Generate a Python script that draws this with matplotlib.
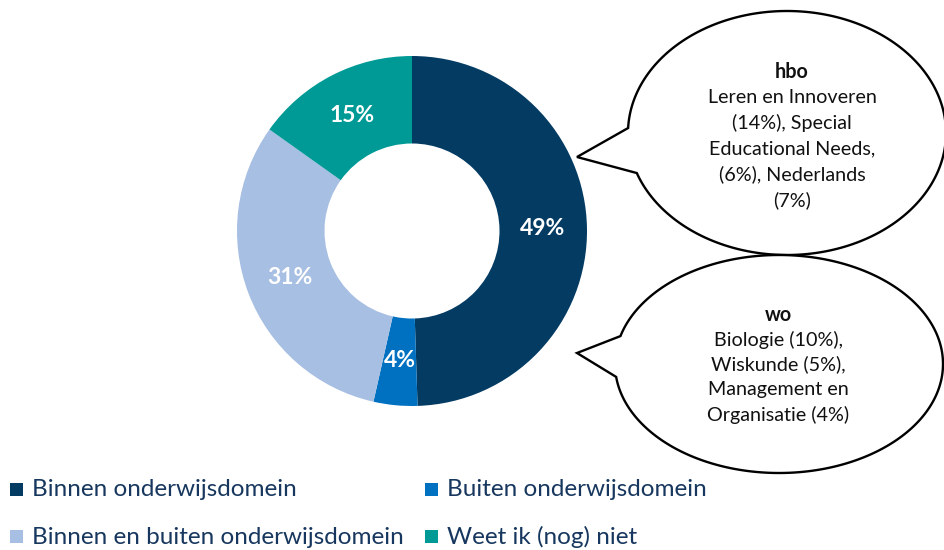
import numpy as np
import matplotlib.pyplot as plt
from matplotlib.patches import Polygon, Rectangle

# data
categories = ['Binnen onderwijsdomein', 'Buiten onderwijsdomein',
              'Binnen en buiten onderwijsdomein', 'Weet ik (nog) niet']
shares = [49, 4, 31, 15]
colors = ['#033B63', '#0070C0', '#A7BFE2', '#009A96']

hbo_title = 'hbo'
hbo_lines = ['Leren en Innoveren', '(14%), Special', 'Educational Needs,',
             '(6%), Nederlands', '(7%)']
wo_title = 'wo'
wo_lines = ['Biologie (10%),', 'Wiskunde (5%),', 'Management en',
            'Organisatie (4%)']

W, H = 945, 550
plt.rcParams['font.family'] = ['Lato', 'DejaVu Sans']


def Y(y):
    # image row (top-down) -> data y (bottom-up)
    return H - y


def bubble(ax, cx, cy, a, b, tip, base1, base2):
    """Speech bubble: ellipse with a tail pointing at tip (image coords)"""
    ang1 = np.arctan2((Y(base1[1]) - Y(cy)) / b, (base1[0] - cx) / a)
    ang2 = np.arctan2((Y(base2[1]) - Y(cy)) / b, (base2[0] - cx) / a)
    # go the long way round from base1 to base2 (clockwise through the right side)
    if ang2 > ang1:
        ang2 -= 2 * np.pi
    t = np.linspace(ang1, ang2, 300)
    pts = np.column_stack([cx + a * np.cos(t), Y(cy) + b * np.sin(t)])
    pts = np.vstack([pts, [tip[0], Y(tip[1])]])
    ax.add_patch(Polygon(pts, closed=True, facecolor='white',
                         edgecolor='black', lw=1.7, zorder=3))


fig = plt.figure(figsize=(W / 100, H / 100), dpi=100)
ax = fig.add_axes([0, 0, 1, 1])

# donut
cx, cy, R = 412, 231, 175
wedges, _ = ax.pie(shares, colors=colors, startangle=90, counterclock=False,
                   radius=R, center=(cx, Y(cy)),
                   wedgeprops=dict(width=R * 0.5, linewidth=0))
for w, v in zip(wedges, shares):
    mid = np.deg2rad((w.theta1 + w.theta2) / 2)
    r = R * 0.745
    ax.text(cx + r * np.cos(mid), Y(cy) + r * np.sin(mid), f'{v}%',
            color='white', fontsize=16.5, fontweight='bold',
            ha='center', va='center', zorder=2)

# pie() resets the limits, so set them afterwards
ax.set_xlim(0, W)
ax.set_ylim(0, H)
ax.set_aspect('equal')
ax.axis('off')

# callouts
bubble(ax, 787, 133, 159, 122, tip=(577, 157), base1=(628, 128), base2=(637, 173))
bubble(ax, 779, 364, 164, 109, tip=(577, 353), base1=(620, 336), base2=(615, 377))

txt_kw = dict(ha='center', va='center', fontsize=14.2, color='#111111', zorder=4)
ax.text(792, Y(72), hbo_title, fontweight='bold', **txt_kw)
for i, line in enumerate(hbo_lines):
    ax.text(792, Y(97 + i * 25.7), line, **txt_kw)
ax.text(778, Y(315), wo_title, fontweight='bold', **txt_kw)
for i, line in enumerate(wo_lines):
    ax.text(778, Y(339.5 + i * 25), line, **txt_kw)

# legend
leg_pos = [(10, 490), (425, 490), (10, 537), (425, 537)]
for (lx, ly), lab, col in zip(leg_pos, categories, colors):
    ax.add_patch(Rectangle((lx, Y(ly) - 6.5), 13, 13, facecolor=col,
                           edgecolor='none'))
    ax.text(lx + 22, Y(ly), lab, fontsize=17.5, color='#17375E',
            ha='left', va='center')

fig.savefig('out.png', dpi=100)
